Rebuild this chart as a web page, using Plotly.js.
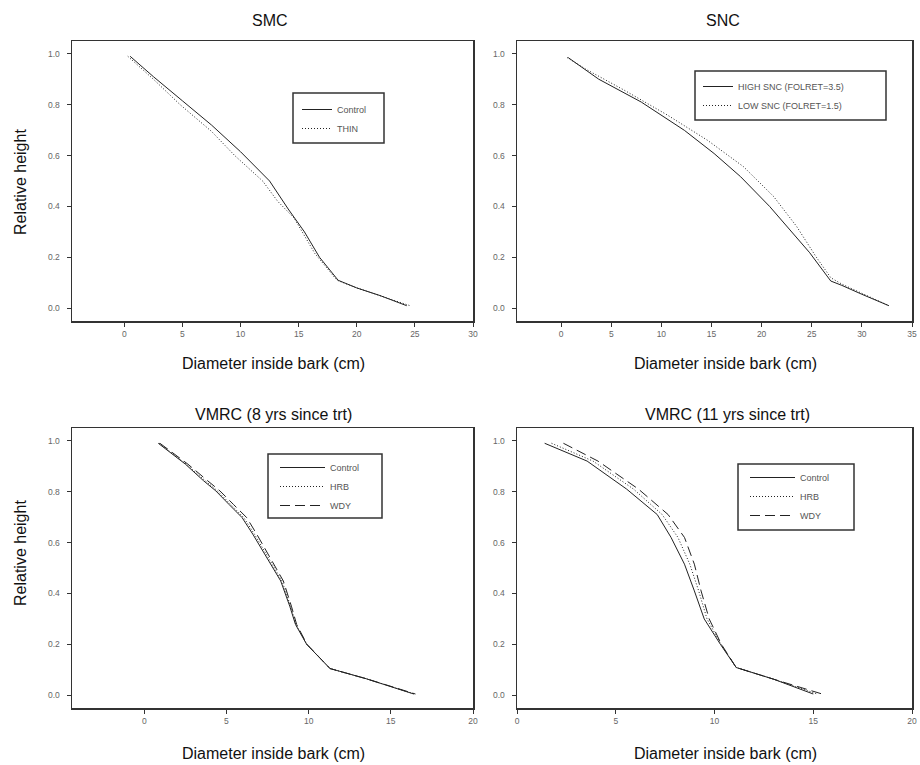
<!DOCTYPE html>
<html>
<head>
<meta charset="utf-8">
<script src="https://cdn.plot.ly/plotly-3.0.1.min.js"></script>
<style>html,body{margin:0;padding:0;background:#fff;}#chart{width:920px;height:765px;}</style>
</head>
<body>
<div id="chart"></div>
<script>
// ---- Panel 1: SMC ----
const smcControlX = [0.5, 2.5, 5, 7.5, 10, 12.5, 14.1, 15.5, 16.8, 18.4, 20, 22, 24.3];
const smcControlY = [0.99, 0.91, 0.815, 0.72, 0.615, 0.50, 0.39, 0.30, 0.20, 0.11, 0.08, 0.05, 0.01];
const smcThinX = [0.3, 2.5, 4.8, 7.5, 9.5, 11.9, 13.2, 14.6, 16.4, 18.3, 20, 22, 24.6];
const smcThinY = [0.99, 0.90, 0.80, 0.695, 0.60, 0.50, 0.42, 0.355, 0.215, 0.11, 0.08, 0.05, 0.01];

// ---- Panel 2: SNC ----
const sncHighX = [0.7, 3.75, 8.0, 12.3, 15.26, 17.9, 20.8, 22.8, 24.8, 26.9, 28, 30, 32.7];
const sncHighY = [0.985, 0.90, 0.81, 0.699, 0.608, 0.517, 0.40, 0.31, 0.218, 0.107, 0.09, 0.055, 0.01];
const sncLowX = [0.6, 2.43, 6.38, 10.65, 14.6, 18.2, 21.2, 23.5, 25.4, 26.9, 28, 30, 32.7];
const sncLowY = [0.985, 0.94, 0.855, 0.758, 0.66, 0.556, 0.439, 0.321, 0.204, 0.12, 0.095, 0.06, 0.01];

// ---- Panel 3: VMRC (8 yrs since trt) ----
const v8Y = [0.99, 0.908, 0.843, 0.803, 0.75, 0.698, 0.633, 0.54, 0.449, 0.35, 0.278, 0.20, 0.105, 0.065, 0.005];
const v8ControlX = [0.85, 2.5, 3.6, 4.35, 5.15, 5.95, 6.6, 7.45, 8.3, 8.85, 9.2, 9.88, 11.3, 13.5, 16.4];
const v8HrbX = [0.9, 2.55, 3.7, 4.45, 5.25, 6.05, 6.7, 7.55, 8.38, 8.9, 9.23, 9.89, 11.3, 13.5, 16.45];
const v8WdyX = [0.95, 2.65, 3.85, 4.6, 5.42, 6.23, 6.84, 7.65, 8.46, 8.95, 9.27, 9.9, 11.3, 13.5, 16.5];

// ---- Panel 4: VMRC (11 yrs since trt) ----
const v11Y = [0.99, 0.92, 0.81, 0.71, 0.62, 0.515, 0.41, 0.30, 0.20, 0.109, 0.063, 0.005];
const v11ControlX = [1.4, 3.55, 5.55, 7.1, 7.8, 8.48, 8.98, 9.48, 10.3, 11.1, 13.0, 15.0];
const v11HrbX = [1.75, 3.85, 5.9, 7.35, 8.15, 8.75, 9.2, 9.62, 10.33, 11.1, 13.0, 15.2];
const v11WdyX = [2.35, 4.1, 6.15, 7.65, 8.48, 8.98, 9.32, 9.73, 10.35, 11.1, 13.0, 15.45];

// ---- Text ----
const panelTitles = ['SMC', 'SNC', 'VMRC (8 yrs since trt)', 'VMRC (11 yrs since trt)'];
const xTitle = 'Diameter inside bark (cm)';
const yTitle = 'Relative height';
const yTickVals = [0, 0.2, 0.4, 0.6, 0.8, 1.0];
const yTickText = ['0.0', '0.2', '0.4', '0.6', '0.8', '1.0'];

const W = 920, H = 765;
const px = v => v / W;
const py = v => 1 - v / H;
const lineCol = '#222';
const DOT = '1px,2px';
const DASH = '10px,5px';

function tr(x, y, name, dash, xa, ya, leg) {
  return {x: x, y: y, name: name, type: 'scatter', mode: 'lines',
    line: {color: lineCol, width: 1, dash: dash}, xaxis: xa, yaxis: ya, legend: leg};
}

const data = [
  tr(smcControlX, smcControlY, 'Control', 'solid', 'x', 'y', 'legend'),
  tr(smcThinX, smcThinY, 'THIN', DOT, 'x', 'y', 'legend'),
  tr(sncHighX, sncHighY, 'HIGH SNC (FOLRET=3.5)', 'solid', 'x2', 'y2', 'legend2'),
  tr(sncLowX, sncLowY, 'LOW SNC (FOLRET=1.5)', DOT, 'x2', 'y2', 'legend2'),
  tr(v8ControlX, v8Y, 'Control', 'solid', 'x3', 'y3', 'legend3'),
  tr(v8HrbX, v8Y, 'HRB', DOT, 'x3', 'y3', 'legend3'),
  tr(v8WdyX, v8Y, 'WDY', DASH, 'x3', 'y3', 'legend3'),
  tr(v11ControlX, v11Y, 'Control', 'solid', 'x4', 'y4', 'legend4'),
  tr(v11HrbX, v11Y, 'HRB', DOT, 'x4', 'y4', 'legend4'),
  tr(v11WdyX, v11Y, 'WDY', DASH, 'x4', 'y4', 'legend4')
];

const tickFont = {family: 'Liberation Sans, Arial, sans-serif', size: 8.5, color: '#666'};
function xax(dom, range, anchor) {
  return {domain: dom, range: range, anchor: anchor, showgrid: false, zeroline: false,
    showline: true, mirror: true, linecolor: '#333', linewidth: 1.5,
    ticks: 'outside', ticklen: 4, tickwidth: 1, tickcolor: '#333', dtick: 5, tick0: 0,
    tickfont: tickFont, ticklabeloverflow: 'allow', fixedrange: true};
}
function yax(dom, anchor) {
  return {domain: dom, range: [-0.05, 1.05], anchor: anchor, showgrid: false, zeroline: false,
    showline: true, mirror: true, linecolor: '#333', linewidth: 1.5,
    ticks: 'outside', ticklen: 4, tickwidth: 1, tickcolor: '#333',
    tickvals: yTickVals, ticktext: yTickText, tickfont: tickFont, ticklabelstandoff: 5, fixedrange: true};
}

const leftDom = [px(72), px(473)];
const rightDom = [px(517), px(912)];
const topDom = [py(321), py(41)];
const botDom = [py(708), py(428)];

const titleFont = {family: 'Liberation Sans, Arial, sans-serif', size: 16, color: '#111'};
function ann(text, x, y, rot) {
  const a = {text: text, x: px(x), y: py(y), xref: 'paper', yref: 'paper',
    xanchor: 'center', yanchor: 'middle', showarrow: false, font: titleFont};
  if (rot) a.textangle = rot;
  return a;
}

const legFont = {family: 'Liberation Sans, Arial, sans-serif', size: 9, color: '#555'};
function leg(x, y, itemw) {
  return {x: px(x), y: py(y), xanchor: 'left', yanchor: 'top', xref: 'paper', yref: 'paper',
    bgcolor: 'rgba(0,0,0,0)', borderwidth: 0, font: legFont,
    tracegroupgap: 0, itemclick: false, itemdoubleclick: false, itemwidth: itemw};
}
function box(x0, y0, x1, y1) {
  return {type: 'rect', xref: 'paper', yref: 'paper', x0: px(x0), x1: px(x1), y0: py(y1), y1: py(y0),
    line: {color: '#333', width: 1.5}, fillcolor: '#fff', layer: 'above'};
}

const layout = {
  width: W, height: H,
  margin: {l: 0, r: 0, t: 0, b: 0},
  paper_bgcolor: '#fff', plot_bgcolor: '#fff',
  font: {family: 'Liberation Sans, Arial, sans-serif'},
  xaxis: xax(leftDom, [-4.5, 30], 'y'),
  yaxis: yax(topDom, 'x'),
  xaxis2: xax(rightDom, [-4.4, 35], 'y2'),
  yaxis2: yax(topDom, 'x2'),
  xaxis3: xax(leftDom, [-4.4, 20], 'y3'),
  yaxis3: yax(botDom, 'x3'),
  xaxis4: xax(rightDom, [0, 20], 'y4'),
  yaxis4: yax(botDom, 'x4'),
  showlegend: true,
  legend: leg(297, 95, 30),
  legend2: leg(698, 72, 30),
  legend3: leg(275, 453, 45),
  legend4: leg(745, 463, 45),
  shapes: [
    box(293, 93, 384, 143),
    box(695, 71, 886, 120),
    box(268, 454, 382, 518),
    box(738, 464, 854, 530)
  ],
  annotations: [
    ann(panelTitles[0], 270, 20),
    ann(panelTitles[1], 723, 20),
    ann(panelTitles[2], 273, 414),
    ann(panelTitles[3], 727, 414),
    ann(xTitle, 273, 363),
    ann(xTitle, 725, 363),
    ann(xTitle, 273, 753),
    ann(xTitle, 725, 753),
    ann(yTitle, 20, 182, -90),
    ann(yTitle, 20, 553, -90)
  ]
};

Plotly.newPlot('chart', data, layout, {displayModeBar: false, staticPlot: true});
</script>
</body>
</html>
